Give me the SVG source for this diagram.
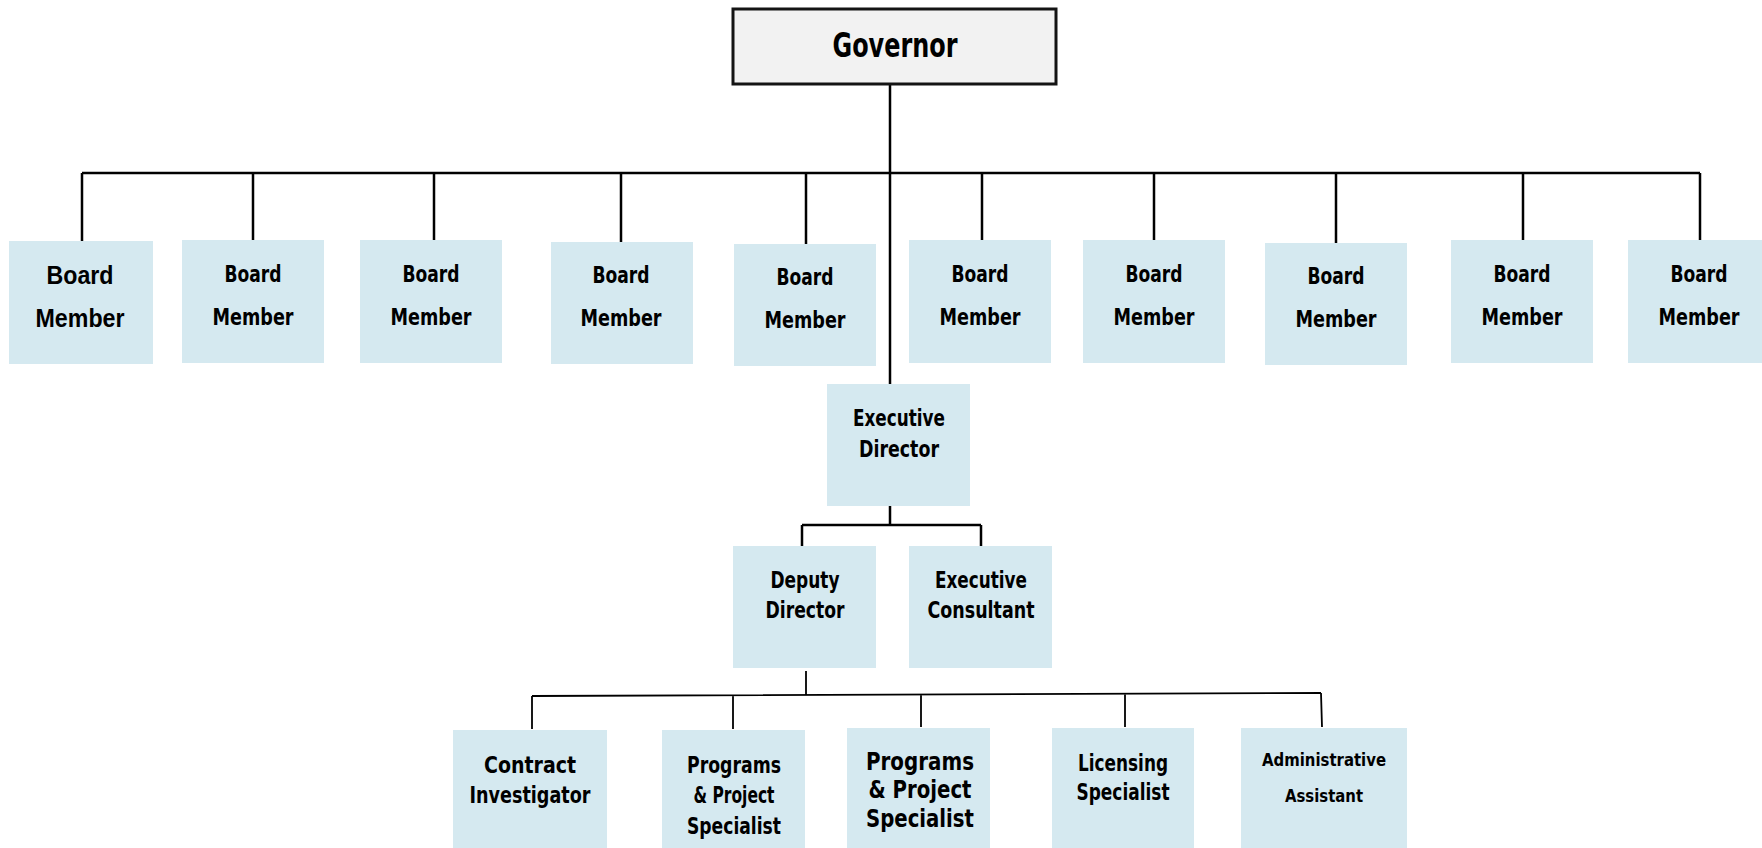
<svg xmlns="http://www.w3.org/2000/svg" width="1762" height="848" viewBox="0 0 1762 848">
<style>
.box{fill:#d5e9f0}
.gov{fill:#f2f2f2;stroke:#141414;stroke-width:3}
.t{font-family:"DejaVu Sans Condensed","DejaVu Sans",sans-serif;font-weight:bold;fill:#000;text-anchor:middle}
.a{font-family:"Liberation Sans",Arial,sans-serif;font-weight:bold;fill:#000;text-anchor:middle}
.c{stroke:#000;stroke-width:2.5;fill:none}
.c2{stroke:#000;stroke-width:1.8;fill:none}
</style>
<rect width="1762" height="848" fill="#fff"/>
<g id="connectors">
<path class="c" d="M890 84V384M82 173H1700M82 173V242M253 173V240M434 173V240M621 173V242M806 173V244M982 173V240M1154 173V240M1336 173V243M1523 173V240M1700 173V240"/>
<path class="c" d="M890 506V525M802 525H981M802 525V546M981 525V546"/>
<path class="c2" d="M806 671V695M532 696L1321 693M532 696V729M733 696V729M921 695V727M1125 694V727M1321 693L1322 727"/>
</g>
<g id="governor">
<rect class="gov" x="733" y="9" width="323" height="75"/>
<text class="t" x="895" y="57" font-size="33" textLength="125" lengthAdjust="spacingAndGlyphs">Governor</text>
</g>
<g id="bm1"><rect class="box" x="9" y="241" width="144" height="123"/>
<text class="a" x="80" y="284" font-size="26" textLength="67" lengthAdjust="spacingAndGlyphs">Board</text>
<text class="a" x="80" y="327" font-size="26" textLength="89" lengthAdjust="spacingAndGlyphs">Member</text></g>
<g id="bm2"><rect class="box" x="182" y="240" width="142" height="123"/>
<text class="t" x="253" y="282" font-size="23" textLength="57" lengthAdjust="spacingAndGlyphs">Board</text>
<text class="t" x="253" y="325" font-size="23" textLength="81" lengthAdjust="spacingAndGlyphs">Member</text></g>
<g id="bm3"><rect class="box" x="360" y="240" width="142" height="123"/>
<text class="t" x="431" y="282" font-size="23" textLength="57" lengthAdjust="spacingAndGlyphs">Board</text>
<text class="t" x="431" y="325" font-size="23" textLength="81" lengthAdjust="spacingAndGlyphs">Member</text></g>
<g id="bm4"><rect class="box" x="551" y="242" width="142" height="122"/>
<text class="t" x="621" y="283" font-size="23" textLength="57" lengthAdjust="spacingAndGlyphs">Board</text>
<text class="t" x="621" y="326" font-size="23" textLength="81" lengthAdjust="spacingAndGlyphs">Member</text></g>
<g id="bm5"><rect class="box" x="734" y="244" width="142" height="122"/>
<text class="t" x="805" y="285" font-size="23" textLength="57" lengthAdjust="spacingAndGlyphs">Board</text>
<text class="t" x="805" y="328" font-size="23" textLength="81" lengthAdjust="spacingAndGlyphs">Member</text></g>
<g id="bm6"><rect class="box" x="909" y="240" width="142" height="123"/>
<text class="t" x="980" y="282" font-size="23" textLength="57" lengthAdjust="spacingAndGlyphs">Board</text>
<text class="t" x="980" y="325" font-size="23" textLength="81" lengthAdjust="spacingAndGlyphs">Member</text></g>
<g id="bm7"><rect class="box" x="1083" y="240" width="142" height="123"/>
<text class="t" x="1154" y="282" font-size="23" textLength="57" lengthAdjust="spacingAndGlyphs">Board</text>
<text class="t" x="1154" y="325" font-size="23" textLength="81" lengthAdjust="spacingAndGlyphs">Member</text></g>
<g id="bm8"><rect class="box" x="1265" y="243" width="142" height="122"/>
<text class="t" x="1336" y="284" font-size="23" textLength="57" lengthAdjust="spacingAndGlyphs">Board</text>
<text class="t" x="1336" y="327" font-size="23" textLength="81" lengthAdjust="spacingAndGlyphs">Member</text></g>
<g id="bm9"><rect class="box" x="1451" y="240" width="142" height="123"/>
<text class="t" x="1522" y="282" font-size="23" textLength="57" lengthAdjust="spacingAndGlyphs">Board</text>
<text class="t" x="1522" y="325" font-size="23" textLength="81" lengthAdjust="spacingAndGlyphs">Member</text></g>
<g id="bm10"><rect class="box" x="1628" y="240" width="142" height="123"/>
<text class="t" x="1699" y="282" font-size="23" textLength="57" lengthAdjust="spacingAndGlyphs">Board</text>
<text class="t" x="1699" y="325" font-size="23" textLength="81" lengthAdjust="spacingAndGlyphs">Member</text></g>
<g id="exec-director"><rect class="box" x="827" y="384" width="143" height="122"/>
<text class="t" x="899" y="426" font-size="23" textLength="92" lengthAdjust="spacingAndGlyphs">Executive</text>
<text class="t" x="899" y="457" font-size="23" textLength="80" lengthAdjust="spacingAndGlyphs">Director</text></g>
<g id="deputy-director"><rect class="box" x="733" y="546" width="143" height="122"/>
<text class="t" x="805" y="588" font-size="23" textLength="69" lengthAdjust="spacingAndGlyphs">Deputy</text>
<text class="t" x="805" y="618" font-size="23" textLength="79" lengthAdjust="spacingAndGlyphs">Director</text></g>
<g id="exec-consultant"><rect class="box" x="909" y="546" width="143" height="122"/>
<text class="t" x="981" y="588" font-size="23" textLength="92" lengthAdjust="spacingAndGlyphs">Executive</text>
<text class="t" x="981" y="618" font-size="23" textLength="107" lengthAdjust="spacingAndGlyphs">Consultant</text></g>
<g id="contract-investigator"><rect class="box" x="453" y="730" width="154" height="130"/>
<text class="t" x="530" y="773" font-size="23" textLength="92" lengthAdjust="spacingAndGlyphs">Contract</text>
<text class="t" x="530" y="803" font-size="23" textLength="121" lengthAdjust="spacingAndGlyphs">Investigator</text></g>
<g id="pps1"><rect class="box" x="662" y="730" width="143" height="130"/>
<text class="t" x="734" y="773" font-size="23" textLength="94" lengthAdjust="spacingAndGlyphs">Programs</text>
<text class="t" x="734" y="803" font-size="23" textLength="81" lengthAdjust="spacingAndGlyphs">&amp; Project</text>
<text class="t" x="734" y="834" font-size="23" textLength="94" lengthAdjust="spacingAndGlyphs">Specialist</text></g>
<g id="pps2"><rect class="box" x="847" y="728" width="143" height="130"/>
<text class="t" x="920" y="770" font-size="24" textLength="108" lengthAdjust="spacingAndGlyphs">Programs</text>
<text class="t" x="920" y="798" font-size="24" textLength="103" lengthAdjust="spacingAndGlyphs">&amp; Project</text>
<text class="t" x="920" y="827" font-size="24" textLength="108" lengthAdjust="spacingAndGlyphs">Specialist</text></g>
<g id="licensing-specialist"><rect class="box" x="1052" y="728" width="142" height="130"/>
<text class="t" x="1123" y="771" font-size="23" textLength="90" lengthAdjust="spacingAndGlyphs">Licensing</text>
<text class="t" x="1123" y="800" font-size="23" textLength="93" lengthAdjust="spacingAndGlyphs">Specialist</text></g>
<g id="admin-assistant"><rect class="box" x="1241" y="728" width="166" height="130"/>
<text class="t" x="1324" y="766" font-size="18" textLength="124" lengthAdjust="spacingAndGlyphs">Administrative</text>
<text class="t" x="1324" y="802" font-size="18" textLength="78" lengthAdjust="spacingAndGlyphs">Assistant</text></g>
</svg>
